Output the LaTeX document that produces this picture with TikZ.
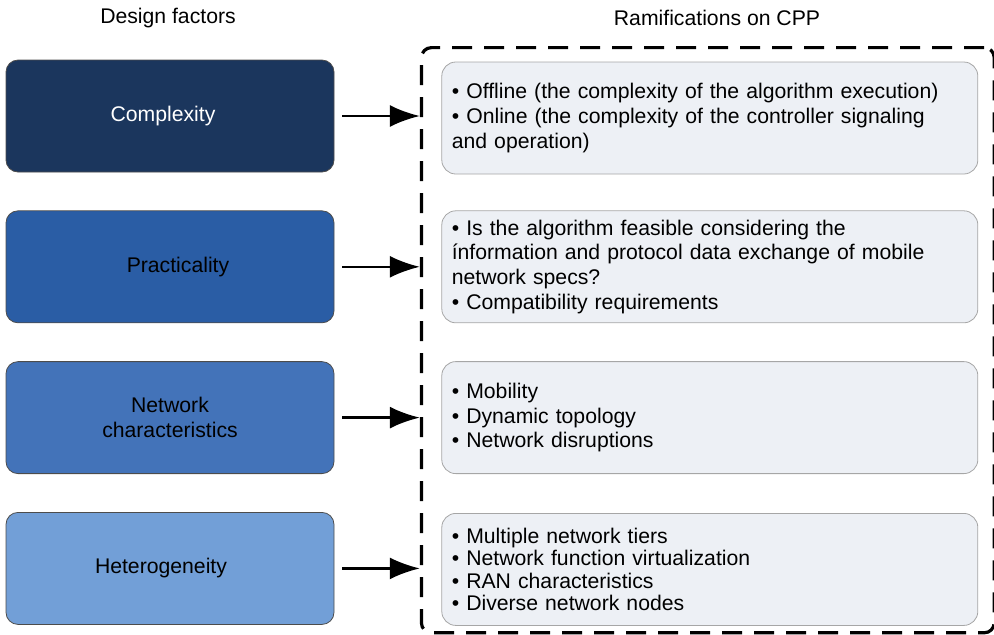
\documentclass[tikz,border=0pt]{standalone}
\usepackage{fontspec}
\setmainfont{Liberation Sans}
\usepackage{xcolor}
\usetikzlibrary{arrows.meta,positioning,fit,calc}
\definecolor{navyfactor}{HTML}{1B365D}
\definecolor{bluefactor}{HTML}{2A5DA5}
\definecolor{midfactor}{HTML}{4373B9}
\definecolor{lightfactor}{HTML}{729FD7}
\definecolor{effectfill}{HTML}{EDF0F5}

\begin{document}
\begin{tikzpicture}[
    node distance=19pt and 53.5pt,
    factor/.style={draw=gray!60!black, rounded corners=6pt, minimum width=164pt, minimum height=56pt, align=center, font=\fontsize{10.6}{12.5}\selectfont},
    effect/.style={draw=gray!70, fill=effectfill, rounded corners=7pt, minimum width=268pt, minimum height=56pt, text width=258pt, inner xsep=5pt, align=left, font=\fontsize{10.6}{12.4}\selectfont},
    header/.style={font=\fontsize{10.6}{12}\selectfont},
    arrow/.style={-{Latex[length=15pt,width=11pt]}, line width=1.3pt},
    frame/.style={draw, dashed, line width=1.6pt, dash pattern=on 10pt off 6pt, rounded corners=5pt, inner sep=0pt}
]
\useasboundingbox (0,0) rectangle (497pt,-317pt);

% Design factors
\node[factor, fill=navyfactor, text=white] (complexity) at (85pt,-58pt) {\hspace*{-7pt}Complexity};
\node[factor, fill=bluefactor, below=of complexity] (practicality) {\hspace*{8pt}Practicality};
\node[factor, fill=midfactor, below=of practicality] (network) {Network\\characteristics};
\node[factor, fill=lightfactor, below=of network] (hetero) {\hspace*{-9pt}Heterogeneity};

% Ramifications
\node[effect, right=53.5pt of complexity, yshift=-1pt] (offline) {%
  \textbullet\ Offline (the complexity of the algorithm execution)\\
  \textbullet\ Online (the complexity of the controller signaling\\and operation)};
\node[effect, right=53.5pt of practicality] (feasible) {%
  \textbullet\ Is the algorithm feasible considering the\\
  ínformation and protocol data exchange of mobile\\
  network specs?\\
  \textbullet\ Compatibility requirements};
\node[effect, right=53.5pt of network] (mobility) {%
  \textbullet\ Mobility\\
  \textbullet\ Dynamic topology\\
  \textbullet\ Network disruptions};
\node[effect, right=53.5pt of hetero, yshift=-0.5pt, font=\fontsize{10.6}{11.2}\selectfont] (tiers) {%
  \textbullet\ Multiple network tiers\\
  \textbullet\ Network function virtualization\\
  \textbullet\ RAN characteristics\\
  \textbullet\ Diverse network nodes};

% Headers
\node[header] (hdesign) at (84pt,-9pt) {Design factors};
\node[header] (hramif) at (358.5pt,-9pt) {Ramifications on CPP};

% Dashed frame
\coordinate (framea) at ($(offline.north west)+(-10pt,7pt)$);
\coordinate (frameb) at ($(tiers.south east)+(8pt,-3.5pt)$);
\node[frame, fit=(framea)(frameb)] (ramframe) {};

% Arrows
\draw[arrow] ($(complexity.east)+(4pt,0)$) -- (ramframe.west |- complexity.east);
\draw[arrow] ($(practicality.east)+(4pt,0)$) -- (ramframe.west |- practicality.east);
\draw[arrow] ($(network.east)+(4pt,0)$) -- (ramframe.west |- network.east);
\draw[arrow] ($(hetero.east)+(4pt,0)$) -- (ramframe.west |- hetero.east);

\end{tikzpicture}
\end{document}
